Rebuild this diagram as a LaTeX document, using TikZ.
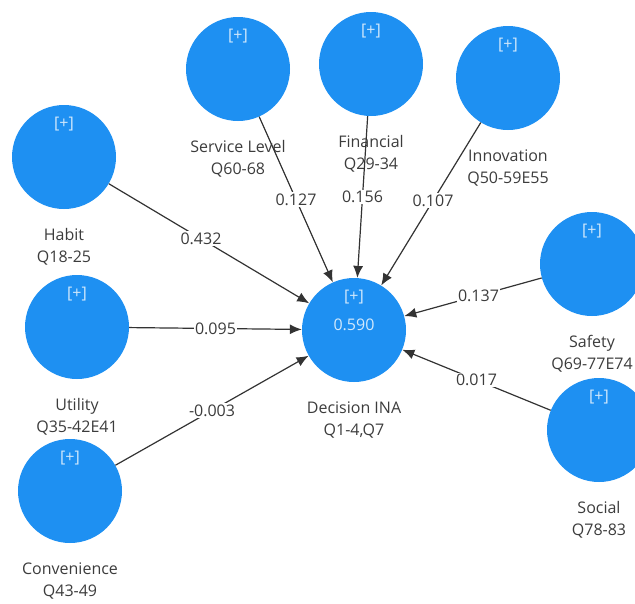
\documentclass[tikz,border=0pt]{standalone}
\usepackage{fontspec}
\setmainfont{Open Sans}
\usetikzlibrary{arrows.meta}
\definecolor{plsblue}{RGB}{30,144,242}
\definecolor{plstext}{RGB}{60,60,60}

\begin{document}
\begin{tikzpicture}[x=1pt,y=-1pt,
    every node/.style={font=\fontsize{16}{22}\selectfont,text=plstext},
    lv/.style={circle,fill=plsblue,minimum size=104pt,inner sep=0pt,
        label={[plusmark]90:{[+]}}},
    plusmark/.style={anchor=north,yshift=-9pt,text=white!80!plsblue},
    lvname/.style={align=center,label distance=16pt},
    path/.style={draw=black!80,line width=1.2pt,-{Latex[length=12pt,width=10pt]}},
    coef/.style={fill=white,inner sep=1.5pt}]
    \useasboundingbox (0,0) rectangle (635,603);
            \node[lv,label={[lvname]below:{Habit\\Q18-25}}] (habit) at (64,157) {};
            \node[lv,label={[lvname]below:{Utility\\Q35-42E41}}] (utility) at (77,327) {};
            \node[lv,label={[lvname]below:{Convenience\\Q43-49}}] (conv) at (70,491) {};
            \node[lv,label={[lvname]below:{Service Level\\Q60-68}}] (service) at (238,69) {};
            \node[lv,label={[lvname]below:{Financial\\Q29-34}}] (financial) at (371,64) {};
            \node[lv,label={[lvname]below:{Innovation\\Q50-59E55}}] (innov) at (508,78) {};
            \node[lv,label={[lvname]below:{Safety\\Q69-77E74}}] (safety) at (592,264) {};
            \node[lv,label={[lvname]below:{Social\\Q78-83}}] (social) at (599,430) {};
            \node[lv,label={[lvname]below:{Decision INA\\Q1-4,Q7}}] (decision) at (354,330) {};
            \node[text=white!80!plsblue] (rsq) at (354,325) {0.590};
            \draw[path] (habit)--node[coef,pos=0.46]{0.432}(decision);
            \draw[path] (utility)--node[coef,midway]{0.095}(decision);
            \draw[path] (conv)--node[coef,midway]{-0.003}(decision);
            \draw[path] (service)--node[coef,midway]{0.127}(decision);
            \draw[path] (financial)--node[coef,midway]{0.156}(decision);
            \draw[path] (innov)--node[coef,pos=0.48]{0.107}(decision);
            \draw[path] (safety)--node[coef,pos=0.46]{0.137}(decision);
            \draw[path] (social)--node[coef,midway]{0.017}(decision);
        \end{tikzpicture}
\end{document}
